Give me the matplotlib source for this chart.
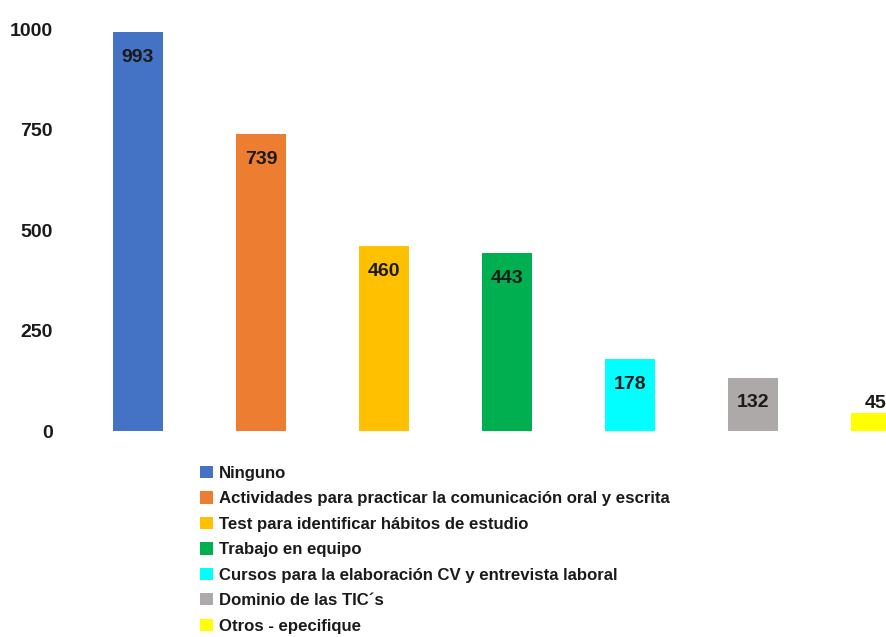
import matplotlib
matplotlib.use("Agg")
import matplotlib.pyplot as plt
from matplotlib import font_manager

categories = [
    "Ninguno",
    "Actividades para practicar la comunicación oral y escrita",
    "Test para identificar hábitos de estudio",
    "Trabajo en equipo",
    "Cursos para la elaboración CV y entrevista laboral",
    "Dominio de las TIC´s",
    "Otros - epecifique",
]
values = [993, 739, 460, 443, 178, 132, 45]
colors = ["#4472C4", "#ED7D31", "#FFC000", "#00B050", "#00FFFF", "#ADA9A8", "#FFFF00"]
yticks = [0, 250, 500, 750, 1000]

names = {f.name for f in font_manager.fontManager.ttflist}
fam = "Liberation Sans Narrow" if "Liberation Sans Narrow" in names else "Liberation Sans"
plt.rcParams["font.family"] = [fam, "DejaVu Sans"]

W, H = 887, 637
fig = plt.figure(figsize=(W / 100, H / 100), dpi=100)
ax = fig.add_axes([60 / W, 1 - 431 / H, 1 - 60 / W, (431 - 20) / H])

xs = list(range(len(values)))
for x, v, c, lab in zip(xs, values, colors, categories):
    ax.bar(x, v, width=0.407, color=c, label=lab, zorder=2)

for x, v in zip(xs, values):
    off = -18 if v > 100 else 7
    ax.annotate(str(v), (x, v), xytext=(0, off), textcoords="offset points",
                ha="center", va="center", fontsize=14, fontweight="bold", color="#1a1a1a")

ax.set_xlim(-0.634, 6.089)
ax.set_ylim(0, 1023)
ax.set_yticks(yticks)
ax.set_yticklabels([str(t) for t in yticks], fontsize=14, fontweight="bold", color="#1a1a1a")
ax.set_xticks([])
ax.tick_params(axis="y", length=0, pad=5)
for s in ax.spines.values():
    s.set_visible(False)

leg = fig.legend(loc="upper left", bbox_to_anchor=(200 / W, 1 - 466 / H), frameon=False,
                 prop={"family": [fam, "DejaVu Sans"], "weight": "bold", "size": 12.1},
                 handlelength=0.75, handleheight=0.75, handletextpad=0.4,
                 labelspacing=0.62, borderpad=0, borderaxespad=0)
for t in leg.get_texts():
    t.set_color("#1a1a1a")

fig.savefig("out.png", dpi=100)
